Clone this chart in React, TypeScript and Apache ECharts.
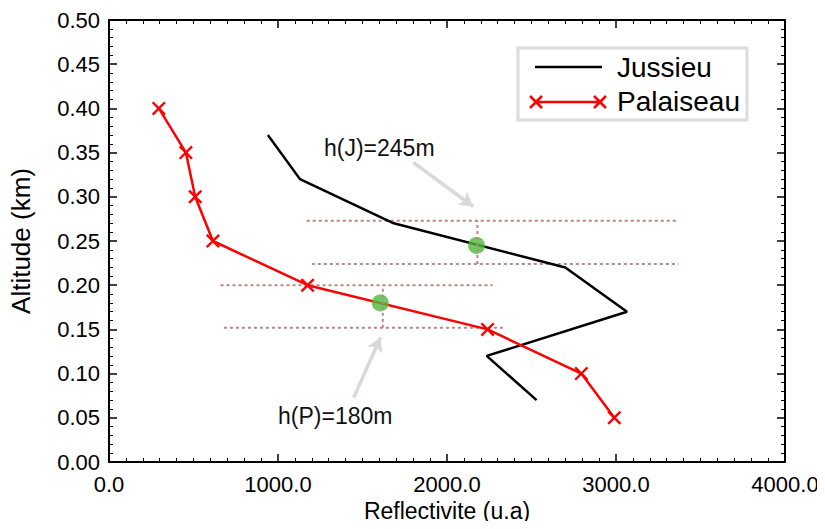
import React, { useEffect, useRef } from "react";
import * as echarts from "echarts";

const jussieuX = [940, 1130, 1685, 2700, 3065, 2235, 2530];
const jussieuY = [0.37, 0.32, 0.27, 0.22, 0.17, 0.12, 0.07];
const palaiseauX = [295, 455, 510, 615, 1175, 2240, 2795, 2990];
const palaiseauY = [0.4, 0.35, 0.3, 0.25, 0.2, 0.15, 0.1, 0.05];
const heightPointsX = [2175, 1605];
const heightPointsY = [0.245, 0.18];
// dotted guide lines: [x1, x2, y]
const guideH = [
  [1170, 3370, 0.273],
  [1200, 3370, 0.224],
  [660, 2270, 0.2],
  [680, 2340, 0.152],
];
// vertical guides: [x, y1, y2]
const guideV = [
  [2180, 0.224, 0.273],
  [1620, 0.152, 0.2],
];
// arrows: [xFrom, yFrom, xTo, yTo]
const arrows = [
  [1800, 0.339, 2155, 0.289],
  [1448, 0.073, 1607, 0.141],
];
const annotations = ["h(J)=245m", "h(P)=180m"];
const seriesNames = ["Jussieu", "Palaiseau"];

const X_PATH =
  "path://M0,1.2L1.2,0L5,3.8L8.8,0L10,1.2L6.2,5L10,8.8L8.8,10L5,6.2L1.2,10L0,8.8L3.8,5Z";

export default function App() {
  const ref = useRef<HTMLDivElement>(null);
  useEffect(() => {
    if (!ref.current) return;
    const chart = echarts.init(ref.current, null, { renderer: "svg" });
    const font = "Liberation Sans, Arial, sans-serif";
    const axisCommon = {
      axisLine: { show: true, onZero: false, lineStyle: { color: "#000", width: 2 } },
      axisTick: { show: true, inside: true, length: 8, lineStyle: { color: "#000", width: 1.5 } },
      minorTick: { show: true, length: 4, lineStyle: { color: "#000", width: 1 } },
      splitLine: { show: false },
      minorSplitLine: { show: false },
    };
    const xBase = { type: "value", min: 0, max: 4000, interval: 1000, ...axisCommon };
    const yBase = { type: "value", min: 0, max: 0.5, interval: 0.05, ...axisCommon };
    const series: any[] = [
      {
        name: seriesNames[0],
        type: "line",
        data: jussieuX.map((x, i) => [x, jussieuY[i]]),
        showSymbol: false,
        symbol: "none",
        lineStyle: { color: "#000", width: 2.5 },
        z: 3,
      },
      {
        name: seriesNames[1],
        type: "line",
        data: palaiseauX.map((x, i) => [x, palaiseauY[i]]),
        symbol: X_PATH,
        symbolSize: 14,
        itemStyle: { color: "#ff0000" },
        lineStyle: { color: "#ff0000", width: 2.5 },
        z: 3,
      },
    ];
    guideH.forEach((g) => {
      series.push({
        type: "line",
        data: [
          [g[0], g[2]],
          [g[1], g[2]],
        ],
        symbol: "none",
        lineStyle: { color: "#b88787", width: 2, type: [3, 3] },
        z: 2,
      });
    });
    guideV.forEach((g) => {
      series.push({
        type: "line",
        data: [
          [g[0], g[1]],
          [g[0], g[2]],
        ],
        symbol: "none",
        lineStyle: { color: "#b88787", width: 2, type: [3, 3] },
        z: 5,
      });
    });
    series.push({
      type: "scatter",
      data: heightPointsX.map((x, i) => [x, heightPointsY[i]]),
      symbol: "circle",
      symbolSize: 17,
      itemStyle: { color: "#4fb83a" },
      z: 4,
    });
    series.push({
      type: "line",
      data: [],
      markLine: {
        silent: true,
        symbol: ["none", "arrow"],
        symbolSize: [12, 14],
        label: { show: false },
        lineStyle: { color: "#d9d9d9", width: 3.5, type: "solid" },
        data: arrows.map((a) => [{ coord: [a[0], a[1]] }, { coord: [a[2], a[3]] }]),
      },
    });

    chart.setOption({
      animation: false,
      backgroundColor: "#fff",
      textStyle: { fontFamily: font },
      grid: { left: 108, right: 40, top: 20, bottom: 67, containLabel: false },
      xAxis: [
        {
          ...xBase,
          position: "bottom",
          minorTick: { ...axisCommon.minorTick, splitNumber: 10 },
          axisLabel: {
            color: "#000",
            fontSize: 22,
            fontFamily: font,
            margin: 11,
            formatter: (v: number) => v.toFixed(1),
          },
          name: "Reflectivite (u.a)",
          nameLocation: "middle",
          nameGap: 37,
          nameTextStyle: { color: "#000", fontSize: 23, fontFamily: font },
        },
        {
          ...xBase,
          position: "top",
          minorTick: { ...axisCommon.minorTick, splitNumber: 10 },
          axisLabel: { show: false },
        },
      ],
      yAxis: [
        {
          ...yBase,
          position: "left",
          minorTick: { ...axisCommon.minorTick, splitNumber: 5 },
          axisLabel: {
            color: "#000",
            fontSize: 22,
            fontFamily: font,
            margin: 9,
            formatter: (v: number) => v.toFixed(2),
          },
          name: "Altitude (km)",
          nameLocation: "middle",
          nameGap: 75,
          nameRotate: 90,
          nameTextStyle: { color: "#000", fontSize: 26, fontFamily: font },
        },
        {
          ...yBase,
          position: "right",
          minorTick: { ...axisCommon.minorTick, splitNumber: 5 },
          axisLabel: { show: false },
        },
      ],
      series,
      graphic: [
        {
          type: "text",
          left: 324,
          top: 136,
          style: { text: annotations[0], font: `23px ${font}`, fill: "#111" },
          z: 10,
        },
        {
          type: "text",
          left: 278,
          top: 404,
          style: { text: annotations[1], font: `23px ${font}`, fill: "#111" },
          z: 10,
        },
        {
          type: "rect",
          shape: { x: 518, y: 48, width: 229, height: 72 },
          style: { fill: "#fff", stroke: "#dcdcdc", lineWidth: 3 },
          z: 10,
        },
        {
          type: "line",
          shape: { x1: 535, y1: 67, x2: 602, y2: 67 },
          style: { stroke: "#000", lineWidth: 2.5 },
          z: 11,
        },
        {
          type: "line",
          shape: { x1: 536, y1: 102, x2: 600, y2: 102 },
          style: { stroke: "#ff0000", lineWidth: 2.5 },
          z: 11,
        },
        {
          type: "polyline",
          shape: { points: [[530, 96], [542, 108]] },
          style: { stroke: "#ff0000", lineWidth: 2.5 },
          z: 11,
        },
        {
          type: "polyline",
          shape: { points: [[542, 96], [530, 108]] },
          style: { stroke: "#ff0000", lineWidth: 2.5 },
          z: 11,
        },
        {
          type: "polyline",
          shape: { points: [[594, 96], [606, 108]] },
          style: { stroke: "#ff0000", lineWidth: 2.5 },
          z: 11,
        },
        {
          type: "polyline",
          shape: { points: [[606, 96], [594, 108]] },
          style: { stroke: "#ff0000", lineWidth: 2.5 },
          z: 11,
        },
        {
          type: "text",
          left: 617,
          top: 53,
          style: { text: seriesNames[0], font: `28px ${font}`, fill: "#000" },
          z: 11,
        },
        {
          type: "text",
          left: 617,
          top: 87,
          style: { text: seriesNames[1], font: `28px ${font}`, fill: "#000" },
          z: 11,
        },
      ],
    });
    return () => chart.dispose();
  }, []);
  return <div ref={ref} style={{ width: 825, height: 529, margin: -8 }} />;
}
